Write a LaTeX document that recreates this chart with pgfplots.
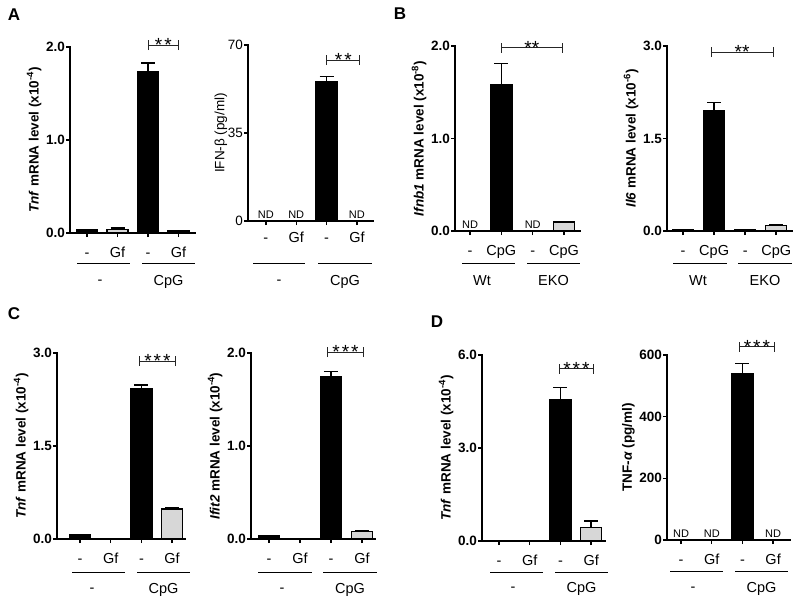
\documentclass[border=0pt]{standalone}
\usepackage{pgfplots}
\pgfplotsset{compat=1.18}
\usepackage{fontspec}
\setmainfont{Liberation Sans}
\definecolor{barg}{RGB}{215,215,215}
\pgfplotsset{
  panel/.style={
    scale only axis, anchor=south west, clip=false,
    axis lines*=left,
    axis line style={line width=1.8pt, line cap=rect},
    ymin=0,
    xtick={0,1,2,3},
    tick style={line width=1.4pt, black},
    major tick length=4pt,
    tick align=outside,
    xticklabel style={font=\fontsize{14.5}{14}\selectfont, inner sep=0pt, text height=10pt, text depth=0pt, yshift=-10pt},
    yticklabel style={font=\fontsize{13.5}{14}\selectfont\bfseries, inner sep=1pt},
    ylabel style={font=\fontsize{13.5}{14}\selectfont\bfseries, yshift=0pt},
    ybar, bar width=21pt,
    every axis plot/.append style={bar shift=0pt, draw=black, line width=1.5pt},
    error bars/y dir=plus, error bars/y explicit,
    error bars/error bar style={line width=1.5pt, black},
    error bars/error mark options={rotate=90, mark size=7pt, line width=1.5pt, black},
  },
  blk/.style={fill=black},
  gry/.style={fill=barg},
}
\newcommand{\sig}[5]{%
  \draw[line width=1pt, black!85] (axis cs:#1,#4) -- (axis cs:#2,#4);
  \draw[line width=1pt, black!85] ([yshift=-5pt]axis cs:#1,#4) -- ([yshift=5pt]axis cs:#1,#4);
  \draw[line width=1pt, black!85] ([yshift=-5pt]axis cs:#2,#4) -- ([yshift=5pt]axis cs:#2,#4);
  \node[anchor=south, inner sep=0pt, yshift=-7pt, font=\fontsize{19}{19}\selectfont] at (axis cs:#3,#4) {#5};}
\newcommand{\nd}[1]{\node[anchor=south, inner sep=0pt, yshift=2.5pt, font=\fontsize{11}{11}\selectfont] at (axis cs:#1,0) {ND};}
\newcommand{\grp}[9]{%
  \draw[line width=1pt] (#2,#1) -- (#3,#1) (#4,#1) -- (#5,#1);
  \node[font=\fontsize{14.5}{14}\selectfont] at (#7,#6) {#8};
  \node[font=\fontsize{14.5}{14}\selectfont] at ({(#4+#5)/2},#6) {#9};}
\begin{document}
\begin{tikzpicture}
\useasboundingbox (0,0) rectangle (800pt,-605pt);
% ---------- A1
\begin{axis}[panel, at={(70pt,-233pt)}, width=125pt, height=186pt,
  xmin=-0.56, xmax=3.54, ymax=2, ytick={0,1,2}, yticklabels={0.0,1.0,2.0},
  xticklabels={-,Gf,-,Gf},
  ylabel={\textit{Tnf} mRNA level (x10\textsuperscript{-4})}]
\addplot[blk] coordinates {(0,0.03) +- (0,0.005) (2,1.73) +- (0,0.10)};
\addplot[gry] coordinates {(1,0.04) +- (0,0.012) (3,0.02) +- (0,0.004)};
\sig{2}{3}{2.5}{2.02}{*\kern2pt*}
\end{axis}
% ---------- A2
\begin{axis}[panel, at={(248pt,-221pt)}, width=125pt, height=176pt,
  xmin=-0.59, xmax=3.53, ymax=70, ytick={0,35,70}, yticklabels={0,35,70},
  yticklabel style={font=\fontsize{13.5}{14}\selectfont\mdseries},
  ylabel style={font=\fontsize{13.5}{14}\selectfont\mdseries, yshift=-4pt},
  xticklabel style={yshift=3pt},
  xticklabels={-,Gf,-,Gf},
  ylabel={IFN-β (pg/ml)}]
\addplot[blk] coordinates {(2,55.5) +- (0,2.0)};
\nd{0}\nd{1}\nd{3}
\sig{2}{3.1}{2.55}{64}{*\kern2pt*}
\end{axis}
% ---------- B1
\begin{axis}[panel, at={(455pt,-231pt)}, width=125pt, height=185pt,
  xmin=-0.48, xmax=3.51, ymax=2, ytick={0,1,2}, yticklabels={0.0,1.0,2.0},
  xticklabels={-,CpG,-,CpG},
  ylabel={\textit{Ifnb1} mRNA level (x10\textsuperscript{-8})}]
\addplot[blk] coordinates {(1,1.58) +- (0,0.23)};
\addplot[gry] coordinates {(3,0.10) +- (0,0.005)};
\nd{0}\nd{2}
\sig{1}{2.95}{1.97}{1.98}{**}
\end{axis}
% ---------- B2
\begin{axis}[panel, at={(667pt,-231pt)}, width=125pt, height=185pt,
  xmin=-0.52, xmax=3.51, ymax=3, ytick={0,1.5,3}, yticklabels={0.0,1.5,3.0},
  xticklabels={-,CpG,-,CpG},
  ylabel={\textit{Il6} mRNA level (x10\textsuperscript{-6})}]
\addplot[blk] coordinates {(0,0.015) +- (0,0.002) (1,1.95) +- (0,0.13) (2,0.015) +- (0,0.002)};
\addplot[gry] coordinates {(3,0.09) +- (0,0.01)};
\sig{0.9}{2.9}{1.9}{2.90}{**}
\end{axis}
% ---------- C1
\begin{axis}[panel, at={(57pt,-539pt)}, width=128pt, height=186pt,
  xmin=-0.75, xmax=3.42, ymax=3, ytick={0,1.5,3}, yticklabels={0.0,1.5,3.0},
  xticklabels={-,Gf,-,Gf},
  ylabel={\textit{Tnf} mRNA level (x10\textsuperscript{-4})}]
\addplot[blk] coordinates {(0,0.07) +- (0,0.005) (2,2.43) +- (0,0.05)};
\addplot[gry] coordinates {(3,0.48) +- (0,0.02)};
\sig{1.95}{3.1}{2.52}{2.87}{*\kern2pt*\kern2pt*}
\end{axis}
% ---------- C2
\begin{axis}[panel, at={(251pt,-539pt)}, width=124pt, height=186pt,
  xmin=-0.58, xmax=3.42, ymax=2, ytick={0,1,2}, yticklabels={0.0,1.0,2.0},
  xticklabels={-,Gf,-,Gf},
  ylabel={\textit{Ifit2} mRNA level (x10\textsuperscript{-4})}]
\addplot[blk] coordinates {(0,0.03) +- (0,0.005) (2,1.74) +- (0,0.06)};
\addplot[gry] coordinates {(3,0.08) +- (0,0.005)};
\sig{1.9}{3.05}{2.47}{2.01}{*\kern2pt*\kern2pt*}
\end{axis}
% ---------- D1
\begin{axis}[panel, at={(482pt,-541pt)}, width=123pt, height=186pt,
  xmin=-0.55, xmax=3.45, ymax=6, ytick={0,3,6}, yticklabels={0.0,3.0,6.0},
  xticklabels={-,Gf,-,Gf},
  ylabel={\textit{Tnf} mRNA level (x10\textsuperscript{-4})}]
\addplot[blk] coordinates {(0,0.02) +- (0,0.003) (2,4.55) +- (0,0.40)};
\addplot[gry] coordinates {(1,0.02) +- (0,0.003) (3,0.43) +- (0,0.22)};
\sig{1.97}{3.07}{2.52}{5.55}{*\kern2pt*\kern2pt*}
\end{axis}
% ---------- D2
\begin{axis}[panel, at={(667pt,-540pt)}, width=123pt, height=185pt,
  xmin=-0.46, xmax=3.55, ymax=600, ytick={0,200,400,600}, yticklabels={0,200,400,600},
  xticklabels={-,Gf,-,Gf},
  ylabel={TNF-\textit{α} (pg/ml)}]
\addplot[blk] coordinates {(2,540) +- (0,33)};
\nd{0}\nd{1}\nd{3}
\sig{1.9}{3.05}{2.47}{626}{*\kern2pt*\kern2pt*}
\end{axis}
% ---------- group annotations and panel letters
\begin{scope}[x=1pt,y=-1pt]
\grp{263}{77}{130}{142}{195}{282}{100}{-}{CpG}
\grp{263}{253}{305}{318}{372}{282}{279}{-}{CpG}
\grp{263}{462}{515}{527}{580}{281}{482}{Wt}{EKO}
\grp{263}{673}{727}{738}{792}{281}{698}{Wt}{EKO}
\grp{572}{72}{125}{137}{190}{590}{92}{-}{CpG}
\grp{572}{258}{312}{323}{377}{590}{282}{-}{CpG}
\grp{572}{490}{543}{555}{608}{589}{513}{-}{CpG}
\grp{571}{670}{723}{735}{788}{589}{693}{-}{CpG}
\node[font=\fontsize{17}{17}\selectfont\bfseries] at (14,15) {A};
\node[font=\fontsize{17}{17}\selectfont\bfseries] at (400,14) {B};
\node[font=\fontsize{17}{17}\selectfont\bfseries] at (14,314) {C};
\node[font=\fontsize{17}{17}\selectfont\bfseries] at (437,322) {D};
\end{scope}
\end{tikzpicture}
\end{document}
